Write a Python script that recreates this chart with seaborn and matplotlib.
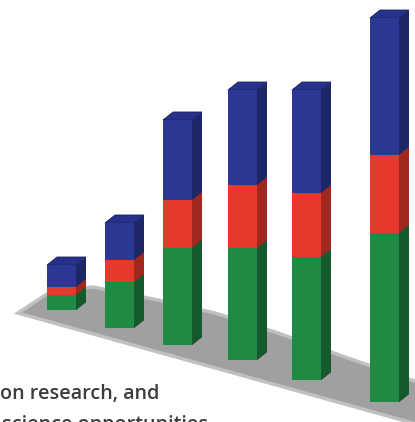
import matplotlib
matplotlib.use("Agg")
import matplotlib.pyplot as plt
import numpy as np
import pandas as pd
import seaborn as sns
from matplotlib.patches import Polygon

# Stacked values per column (bottom to top: green, red, blue)
columns = ["A", "B", "C", "D", "E", "F"]
green_vals = [15, 46, 97, 112, 123, 169]
red_vals = [8, 22, 48, 63, 64, 78]
blue_vals = [22, 37, 80, 95, 103, 137]

caption_lines = ["on research, and", "science opportunities"]

# ---- layout of the pseudo-3D scene (pixel space, y measured upward) ----
W, H = 415, 422
centers = [61.5, 119.5, 177.5, 242.5, 306.5, 384.5]
floor_px = [310, 328, 345, 360, 380, 402]          # screen y of each bar's foot
base = [H - p for p in floor_px]
depth = (10, 8)                                     # receding edge offset

front = {"green": "#1e8a44", "red": "#e6392b", "blue": "#2a3893"}
side = {"green": "#145a2c", "red": "#a0281f", "blue": "#1d2667"}
top_col = "#27318a"

sns.set_theme(style="white")
plt.rcParams["font.family"] = ["Open Sans", "DejaVu Sans"]

fig = plt.figure(figsize=(W / 100, H / 100), dpi=100)
ax = fig.add_axes([0, 0, 1, 1])

df = pd.DataFrame({
    "col": columns,
    "x": centers,
    "green": green_vals,
    "red": red_vals,
    "blue": blue_vals,
})
df["gr"] = df["green"] + df["red"]
df["total"] = df["gr"] + df["blue"]

# floor slab under the bars
floor_pts = [(18, 313), (50, 292), (93, 287), (153, 299), (215, 313),
             (278, 333), (345, 357), (420, 383), (420, 425), (18, 313)]
floor = Polygon([(x, H - y) for x, y in floor_pts], closed=True,
                facecolor="#a0a0a0", edgecolor="#c0c0c0", lw=2.5, zorder=1)
ax.add_patch(floor)

# front faces, stacked by overdrawing cumulative heights
layers = [("total", "blue"), ("gr", "red"), ("green", "green")]
for col, name in layers:
    sns.barplot(data=df, x="x", y=col, native_scale=True, width=0.5,
                color=front[name], saturation=1, errorbar=None,
                bottom=base, linewidth=0, zorder=3, ax=ax)

# side and top faces derived from the drawn bar rectangles
dx, dy = depth
for (col, name), cont in zip(layers, ax.containers):
    for rect in cont:
        x0, y0 = rect.get_x(), rect.get_y()
        w, h = rect.get_width(), rect.get_height()
        x1, y1 = x0 + w, y0 + h
        ax.add_patch(Polygon([(x1, y0), (x1 + dx, y0 + dy), (x1 + dx, y1 + dy), (x1, y1)],
                             closed=True, facecolor=side[name], lw=0, zorder=2.5))
        if col == "total":
            ax.add_patch(Polygon([(x0, y1), (x1, y1), (x1 + dx, y1 + dy), (x0 + dx, y1 + dy)],
                                 closed=True, facecolor=top_col, edgecolor="#1a2160",
                                 lw=0.6, zorder=2.6))

ax.set_xlim(0, W)
ax.set_ylim(0, H)
ax.axis("off")

# caption text at the lower left; the second line runs off the bottom edge
ax.text(0, H - 399, caption_lines[0], fontsize=14.2, fontweight="semibold",
        color="#3c3c3c", ha="left", va="baseline", clip_on=False)
ax.text(2, H - 430, caption_lines[1], fontsize=14.2, fontweight="semibold",
        color="#3c3c3c", ha="left", va="baseline", clip_on=False)

fig.savefig("out.png", dpi=100, facecolor="white")
